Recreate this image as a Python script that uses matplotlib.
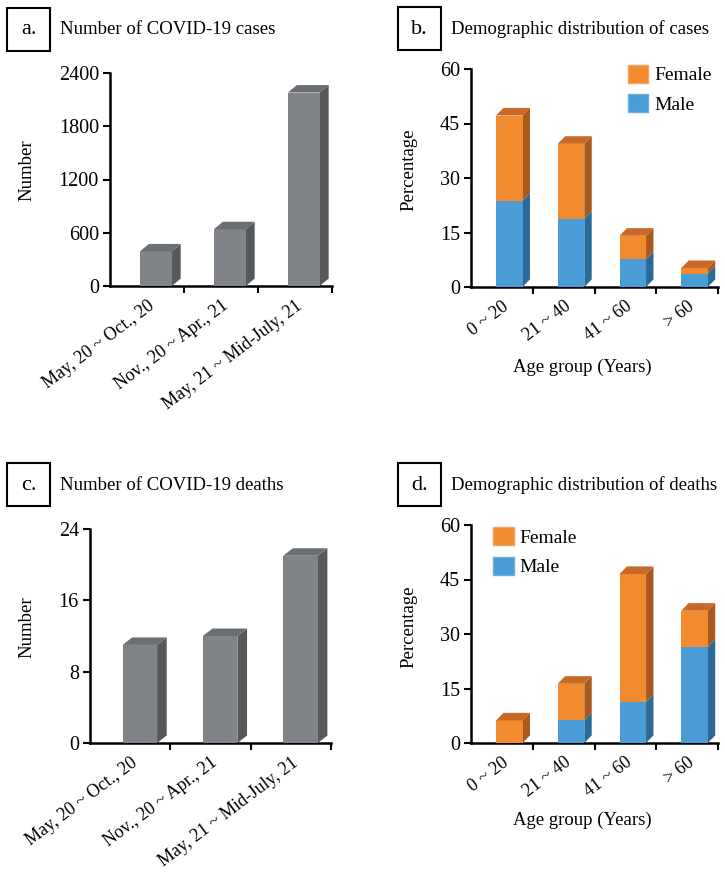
import matplotlib
matplotlib.use("Agg")
import matplotlib.pyplot as plt
from matplotlib.patches import Polygon, Patch, Rectangle
import numpy as np

plt.rcParams['font.family'] = ['Liberation Serif', 'DejaVu Serif']

# data
periods = ["May, 20 ~ Oct., 20", "Nov., 20 ~ Apr., 21", "May, 21 ~ Mid-July, 21"]
cases = [390, 640, 2180]
deaths = [11, 12, 21]

age_groups = ["0 ~ 20", "21 ~ 40", "41 ~ 60", "> 60"]
cases_male = [23.8, 18.8, 7.7, 3.7]
cases_female = [23.4, 20.6, 6.4, 1.5]
deaths_male = [0, 6.2, 11.3, 26.4]
deaths_female = [6.2, 10.1, 35.2, 10.0]

GRAY = ("#808387", "#55595c", "#6b6f72")
ORANGE = ("#f28a30", "#a9591d", "#c86a25")
BLUE = ("#4a9cd6", "#2b6a98", "#3a80b5")

W, H = 725, 890
fig = plt.figure(figsize=(W / 100, H / 100), dpi=100)


def px_axes(l, t, r, b):
    return fig.add_axes([l / W, 1 - b / H, (r - l) / W, (b - t) / H])


def bar3d(ax, x, bottom, height, colors, ymax, top_face=True, width=0.43, dx=0.12):
    if height <= 0:
        return
    front, side, top = colors
    dy = 0.035 * ymax
    t = bottom + height
    x0, x1 = x - width / 2, x + width / 2
    ax.bar(x, height, bottom=bottom, width=width, color=front, zorder=3)
    ax.add_patch(Polygon([(x1, bottom), (x1 + dx, bottom + dy), (x1 + dx, t + dy), (x1, t)],
                         closed=True, facecolor=side, edgecolor="none", zorder=2, clip_on=False))
    if top_face:
        ax.add_patch(Polygon([(x0, t), (x0 + dx, t + dy), (x1 + dx, t + dy), (x1, t)],
                             closed=True, facecolor=top, edgecolor="none", zorder=4, clip_on=False))


def style_axes(ax, n, ymax, yticks, labels, rot=37):
    ax.set_xlim(-0.5, n - 0.5)
    ax.set_ylim(0, ymax)
    for s in ["top", "right"]:
        ax.spines[s].set_visible(False)
    for s in ["left", "bottom"]:
        ax.spines[s].set_linewidth(1.8)
    ax.set_yticks(yticks)
    ax.tick_params(axis="y", direction="out", length=5, width=1.5, labelsize=14.5, pad=3)
    ax.set_xticks(np.arange(n))
    ax.set_xticks(np.arange(n) + 0.5, minor=True)
    ax.tick_params(axis="x", which="major", length=0, pad=8)
    ax.tick_params(axis="x", which="minor", direction="out", length=5, width=1.5)
    ax.set_xticklabels(labels, rotation=rot, ha="right", rotation_mode="anchor", fontsize=13)


def panel_label(letter, title, x, y):
    fig.patches.append(Rectangle((x / W, 1 - (y + 43) / H), 43 / W, 43 / H, transform=fig.transFigure,
                                 fill=False, edgecolor="black", linewidth=1.5))
    fig.text((x + 21.5) / W, 1 - (y + 22) / H, letter, ha="center", va="center", fontsize=16)
    fig.text((x + 53) / W, 1 - (y + 22) / H, title, ha="left", va="center", fontsize=13.5)


def add_legend(ax, handles, x, y):
    ax.legend(handles=handles, loc="upper left", bbox_to_anchor=(x, y), frameon=False,
              borderpad=0, borderaxespad=0, fontsize=14, handlelength=1.05, handleheight=1.05,
              handletextpad=0.3, labelspacing=0.5)


shift = 0.12
handles = [Patch(facecolor=ORANGE[0], edgecolor="#f7a060", label="Female"),
           Patch(facecolor=BLUE[0], edgecolor="#6ab0e0", label="Male")]

# a. cases
ax = px_axes(110, 73, 332, 286)
for i, v in enumerate(cases):
    bar3d(ax, i + shift, 0, v, GRAY, 2400)
style_axes(ax, len(periods), 2400, [0, 600, 1200, 1800, 2400], periods)
fig.text(27 / W, 1 - 170 / H, "Number", rotation=90, ha="center", va="center", fontsize=13.5)
panel_label("a.", "Number of COVID-19 cases", 7, 8)

# b. demographic cases
ax = px_axes(471, 69, 718, 287)
for i in range(len(age_groups)):
    bar3d(ax, i + shift, 0, cases_male[i], BLUE, 60, top_face=False)
    bar3d(ax, i + shift, cases_male[i], cases_female[i], ORANGE, 60)
style_axes(ax, len(age_groups), 60, [0, 15, 30, 45, 60], age_groups)
fig.text(409 / W, 1 - 170 / H, "Percentage", rotation=90, ha="center", va="center", fontsize=13.5)
fig.text(582 / W, 1 - 367 / H, "Age group (Years)", ha="center", va="center", fontsize=13.5)
add_legend(ax, handles, 0.635, 1.02)
panel_label("b.", "Demographic distribution of cases", 398, 7)

# c. deaths
ax = px_axes(90, 529, 331, 743)
for i, v in enumerate(deaths):
    bar3d(ax, i + shift, 0, v, GRAY, 24)
style_axes(ax, len(periods), 24, [0, 8, 16, 24], periods)
fig.text(27 / W, 1 - 627 / H, "Number", rotation=90, ha="center", va="center", fontsize=13.5)
panel_label("c.", "Number of COVID-19 deaths", 7, 463)

# d. demographic deaths
ax = px_axes(471, 525, 718, 743)
for i in range(len(age_groups)):
    bar3d(ax, i + shift, 0, deaths_male[i], BLUE, 60, top_face=False)
    bar3d(ax, i + shift, deaths_male[i], deaths_female[i], ORANGE, 60)
style_axes(ax, len(age_groups), 60, [0, 15, 30, 45, 60], age_groups)
fig.text(409 / W, 1 - 627 / H, "Percentage", rotation=90, ha="center", va="center", fontsize=13.5)
fig.text(582 / W, 1 - 820 / H, "Age group (Years)", ha="center", va="center", fontsize=13.5)
add_legend(ax, handles, 0.09, 0.99)
panel_label("d.", "Demographic distribution of deaths", 398, 463)

fig.savefig("out.png", dpi=100)
